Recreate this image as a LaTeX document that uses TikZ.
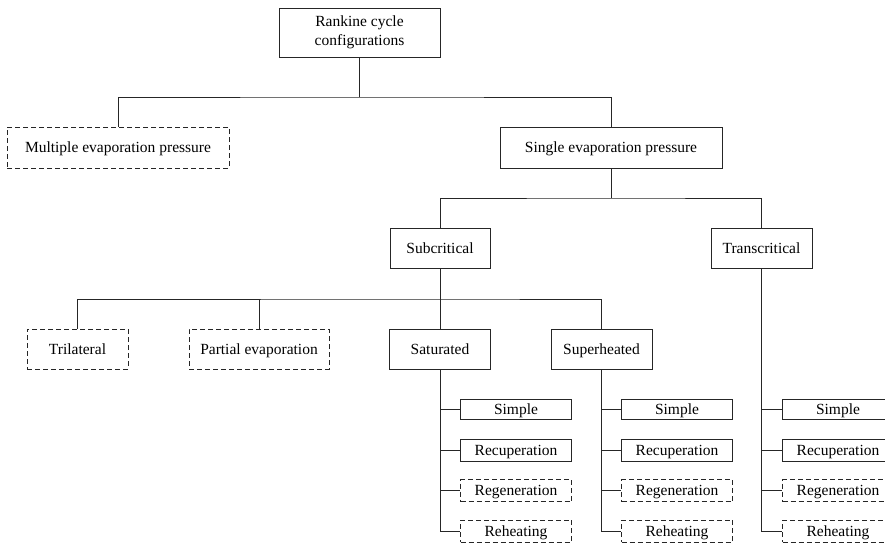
\documentclass[tikz,border=0pt]{standalone}
\usepackage{fontspec}
\setmainfont{Liberation Serif}
\begin{document}
\begin{tikzpicture}[x=1pt,y=-1pt,
  box/.style={draw=black!85, line width=0.9pt, inner sep=0pt, align=center,
    font=\fontsize{15.5}{19}\selectfont, text height=11pt, text depth=1pt},
  dbox/.style={box, dash pattern=on 5pt off 3pt},
  conn/.style={draw=black!85, line width=0.9pt}]
\useasboundingbox (0,0) rectangle (885,544);
\clip (0,0) rectangle (885,544);
% nodes
\node[box, text height=, text depth=, minimum width=161pt, minimum height=49pt] (root) at (359.5,32.5) {Rankine cycle\\configurations};
\node[dbox, minimum width=222pt, minimum height=41pt] (multi) at (118,147.5) {Multiple evaporation pressure};
\node[box, minimum width=222pt, minimum height=41pt] (single) at (611,147.5) {Single evaporation pressure};
\node[box, minimum width=100pt, minimum height=40pt] (sub) at (440,248) {Subcritical};
\node[box, minimum width=101pt, minimum height=40pt] (trans) at (761.5,248) {Transcritical};
\node[dbox, minimum width=101pt, minimum height=40pt] (tri) at (77.5,349) {Trilateral};
\node[dbox, minimum width=140pt, minimum height=40pt] (part) at (259,349) {Partial evaporation};
\node[box, minimum width=101pt, minimum height=40pt] (sat) at (440,349) {Saturated};
\node[box, minimum width=101pt, minimum height=40pt] (sup) at (601.5,349) {Superheated};
% leaves
\foreach \p/\cx in {La/516,Lb/677,Lc/838}{
  \node[box, minimum width=111pt, minimum height=20pt] (\p1) at (\cx,409) {Simple};
  \node[box, minimum width=111pt, minimum height=22pt] (\p2) at (\cx,450) {Recuperation};
  \node[dbox, minimum width=111pt, minimum height=22pt] (\p3) at (\cx,490.5) {Regeneration};
  \node[dbox, minimum width=111pt, minimum height=22pt] (\p4) at (\cx,531) {Reheating};
}
% connectors
\coordinate (j1) at (359.5,97);
\coordinate (j2) at (611,198);
\coordinate (j3) at (440,299);
\draw[conn] (root.south) -- (j1);
\draw[conn] (multi.north) |- (j1) -| (single.north);
\draw[conn] (single.south) -- (j2);
\draw[conn] (sub.north) |- (j2) -| (trans.north);
\draw[conn] (sub.south) -- (j3);
\draw[conn] (tri.north) |- (j3) -| (sup.north);
\draw[conn] (part.north) -- (part.north |- j3);
\draw[conn] (j3) -- (sat.north);
\foreach \pn/\p in {sat/La,sup/Lb,trans/Lc}{
  \draw[conn] (\pn.south) |- (\p4.west);
  \draw[conn] (\pn.south |- \p1.west) -- (\p1.west);
  \draw[conn] (\pn.south |- \p2.west) -- (\p2.west);
  \draw[conn] (\pn.south |- \p3.west) -- (\p3.west);
}
\end{tikzpicture}
\end{document}
